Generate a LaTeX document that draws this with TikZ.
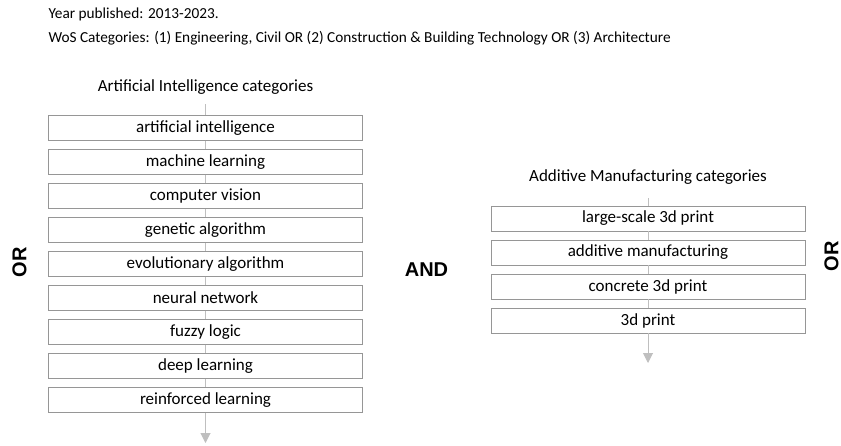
\documentclass[tikz,border=0pt]{standalone}
\usepackage{fontspec}
\setmainfont{Carlito}
\newfontfamily\logicfont{Liberation Sans}
\usetikzlibrary{arrows.meta}

\definecolor{linegray}{RGB}{191,191,191}
\definecolor{boxgray}{RGB}{150,150,150}

\tikzset{
  term/.style={draw=boxgray, fill=white, minimum width=314pt, minimum height=25pt,
    inner sep=0pt, font=\fontsize{17}{19}\selectfont},
  head/.style={font=\fontsize{17}{19}\selectfont},
  note/.style={anchor=west, font=\fontsize{15.3}{17}\selectfont},
  logic/.style={font=\logicfont\bfseries\fontsize{20}{22}\selectfont},
  flow/.style={draw=linegray, line width=1pt},
  flowend/.style={flow, -{Triangle[length=10pt, width=10pt, fill=linegray]}}
}

\begin{document}
\begin{tikzpicture}[x=1pt, y=-1pt]
  \useasboundingbox (0,0) rectangle (841,445);
  \node[note] (y) at (45,14) {Year published: 2013-2023.};
  \node[note] (w) at (45,38) {WoS Categories: (1) Engineering, Civil OR (2) Construction \& Building Technology OR (3) Architecture};

  % AI categories
  \node[head] (ah) at (205.5,87) {Artificial Intelligence categories};
  \coordinate (atop) at (205.5,104);
  \coordinate (aend) at (205.5,443);
  \node[term] (a1) at (205.5,128) {artificial intelligence};
  \node[term] (a2) at (205.5,162) {machine learning};
  \node[term] (a3) at (205.5,196) {computer vision};
  \node[term] (a4) at (205.5,230) {genetic algorithm};
  \node[term] (a5) at (205.5,264) {evolutionary algorithm};
  \node[term] (a6) at (205.5,298) {neural network};
  \node[term] (a7) at (205.5,332) {fuzzy logic};
  \node[term] (a8) at (205.5,366) {deep learning};
  \node[term] (a9) at (205.5,400) {reinforced learning};
  \draw[flow] (atop)--(a1);
  \draw[flow] (a1)--(a2);
  \draw[flow] (a2)--(a3);
  \draw[flow] (a3)--(a4);
  \draw[flow] (a4)--(a5);
  \draw[flow] (a5)--(a6);
  \draw[flow] (a6)--(a7);
  \draw[flow] (a7)--(a8);
  \draw[flow] (a8)--(a9);
  \draw[flowend] (a9)--(aend);

  % AM categories
  \node[head] (bh) at (648,177) {Additive Manufacturing categories};
  \coordinate (btop) at (648,198);
  \coordinate (bend) at (648,363);
  \node[term] (b1) at (648,218.5) {large-scale 3d print};
  \node[term] (b2) at (648,252.5) {additive manufacturing};
  \node[term] (b3) at (648,286.5) {concrete 3d print};
  \node[term] (b4) at (648,320.5) {3d print};
  \draw[flow] (btop)--(b1);
  \draw[flow] (b1)--(b2);
  \draw[flow] (b2)--(b3);
  \draw[flow] (b3)--(b4);
  \draw[flowend] (b4)--(bend);

  \node[logic, rotate=90] (or1) at (19.5,262) {OR};
  \node[logic] (and) at (426.5,270) {AND};
  \node[logic, rotate=90] (or2) at (831.5,256.5) {OR};
\end{tikzpicture}
\end{document}
